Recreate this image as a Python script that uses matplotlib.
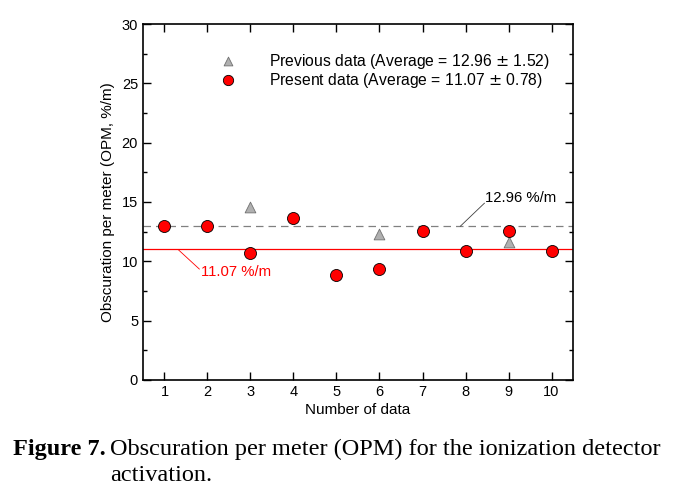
import numpy as np
import matplotlib.pyplot as plt
from matplotlib.ticker import MultipleLocator

plt.rcParams['font.family'] = ['Liberation Sans', 'DejaVu Sans']

# data
n_present = [1, 2, 3, 4, 5, 6, 7, 8, 9, 10]
opm_present = [13.0, 13.0, 10.7, 13.65, 8.85, 9.35, 12.55, 10.87, 12.55, 10.87]
n_previous = [3, 6, 9]
opm_previous = [14.6, 12.3, 11.6]
avg_previous = 12.96
avg_present = 11.07

fig = plt.figure(figsize=(6.77, 4.96), dpi=100)
ax = fig.add_axes([0.2112, 0.2339, 0.6352, 0.7177])

ax.axhline(avg_previous, color='#808080', ls=(0, (6, 4)), lw=0.9, zorder=1)
ax.axhline(avg_present, color='red', lw=0.9, zorder=1)

ax.scatter(n_previous, opm_previous, marker='^', s=60, c='#b0b0b0',
           edgecolors='#707070', linewidths=0.6, zorder=3)
ax.scatter(n_present, opm_present, marker='o', s=75, c='red',
           edgecolors='black', linewidths=0.6, zorder=4)

# legend drawn by hand (no frame)
ax.scatter([2.47], [26.85], marker='^', s=40, c='#b0b0b0',
           edgecolors='#707070', linewidths=0.6, clip_on=False)
ax.scatter([2.47], [25.25], marker='o', s=55, c='red',
           edgecolors='black', linewidths=0.6, clip_on=False)
ax.text(3.42, 26.85, 'Previous data (Average = 12.96 $\\pm$ 1.52)', va='center', fontsize=11.3)
ax.text(3.42, 25.25, 'Present data (Average = 11.07 $\\pm$ 0.78)', va='center', fontsize=11.3)

# annotations for the average lines
ax.plot([1.33, 1.81], [10.95, 9.35], color='red', lw=0.6)
ax.text(1.84, 9.1, '11.07 %/m', color='red', fontsize=10.7, va='center')
ax.plot([7.88, 8.44], [12.96, 14.9], color='#404040', lw=0.6)
ax.text(8.46, 15.3, '12.96 %/m', color='black', fontsize=10.7, va='center')

ax.set_xlim(0.5, 10.5)
ax.set_ylim(0, 30)
ax.set_xticks(range(1, 11))
ax.yaxis.set_major_locator(MultipleLocator(5))
ax.yaxis.set_minor_locator(MultipleLocator(2.5))
ax.tick_params(direction='in', top=True, right=True, length=6, width=1, labelsize=10.5)
ax.tick_params(which='minor', direction='in', right=True, length=3, width=1)
for s in ax.spines.values():
    s.set_linewidth(1.2)

ax.set_xlabel('Number of data', fontsize=11, labelpad=3)
ax.set_ylabel('Obscuration per meter (OPM, %/m)', fontsize=11, labelpad=5)

# caption
cap = dict(family=['Liberation Serif', 'DejaVu Serif'], fontsize=17.5, va='baseline')
fig.text(13 / 677, 1 - 455 / 496, 'Figure 7.', fontweight='bold', **cap)
fig.text(110 / 677, 1 - 455 / 496, 'Obscuration per meter (OPM) for the ionization detector', **cap)
fig.text(110 / 677, 1 - 481 / 496, 'activation.', **cap)

fig.savefig('out.png', dpi=100)
